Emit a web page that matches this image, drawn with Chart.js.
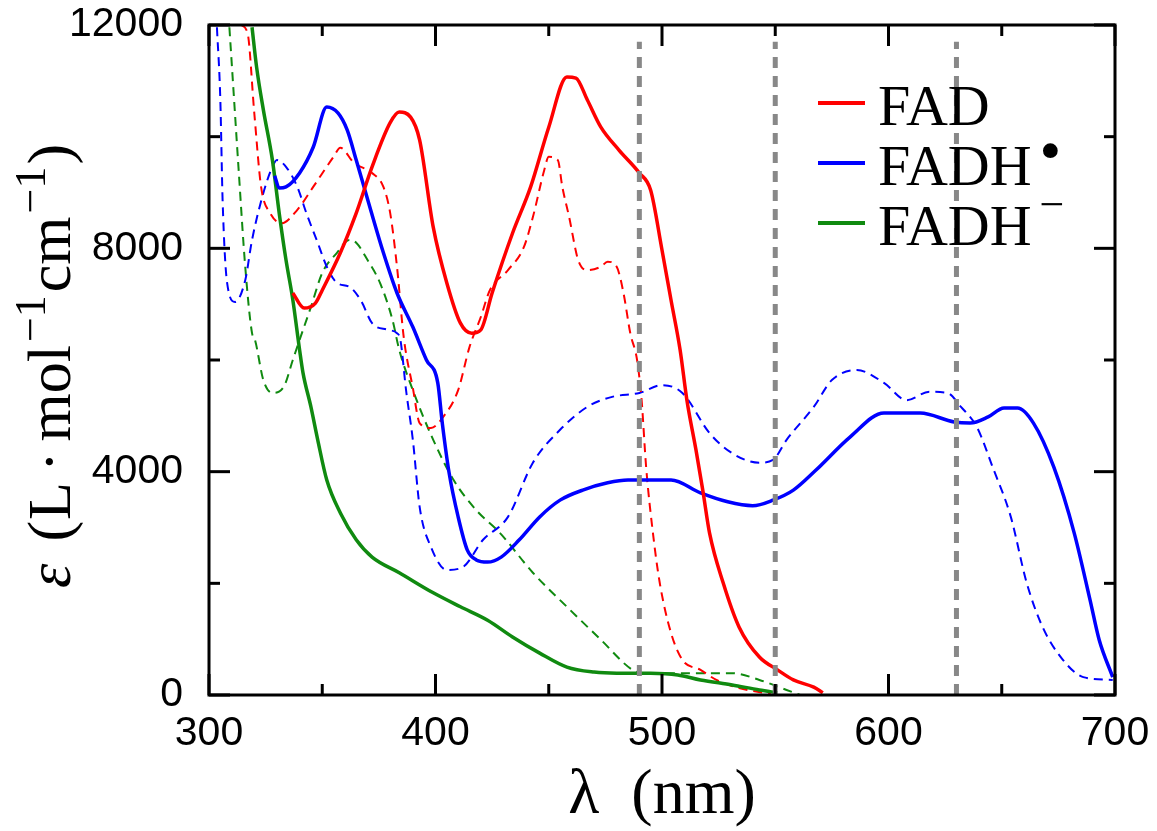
<!DOCTYPE html>
<html>
<head>
<meta charset="utf-8">
<script src="https://cdn.jsdelivr.net/npm/chart.js@4.4.1/dist/chart.umd.min.js"></script>
<style>
  html, body { margin: 0; padding: 0; background: #fff; }
  #wrap { position: relative; width: 1157px; height: 831px; }
</style>
</head>
<body>
<div id="wrap"><canvas id="spectra"></canvas></div>
<script>
const COLORS = {
    red: '#ff0000',
    blue: '#0000ff',
    green: '#108a10',
    gray: '#888888',
    black: '#000000'
};
const TICK_FONT = "'Liberation Sans Narrow', 'Liberation Sans', Arial, sans-serif";
const SERIF = "'Liberation Serif', 'DejaVu Serif', serif";

// FAD (oxidised) - solid = measured, dashed = second spectrum
const fadSolidNm = [337, 342, 347, 350, 358, 365, 372, 380, 384, 389, 393, 399, 405, 411, 416, 420, 425, 434, 442, 450, 458, 462, 467, 473, 481, 490, 495, 500, 504, 508, 511, 515, 518, 521, 527, 534, 543, 551, 558, 567, 571];
const fadSolidEps = [7200, 6930, 7020, 7250, 7920, 8630, 9460, 10250, 10440, 10350, 9940, 8380, 7380, 6660, 6480, 6540, 7200, 8270, 9100, 10170, 11070, 11050, 10660, 10170, 9760, 9350, 9040, 7970, 7070, 6180, 5280, 4390, 3670, 2900, 2010, 1220, 680, 450, 270, 140, 40];
const fadDashNm = [314, 317, 320, 323, 327, 332, 339, 346, 355, 358, 364, 372, 377, 380, 383, 386, 390, 393, 398, 403, 410, 415, 420, 424, 432, 439, 443, 448, 450, 454, 456, 459, 463, 467, 473, 476, 480, 483, 486, 489, 491, 493, 496, 499, 504, 509, 517, 524, 534, 548];
const fadDashEps = [12000, 11860, 10420, 9100, 8630, 8450, 8690, 9100, 9640, 9800, 9530, 9350, 9100, 8630, 7670, 6400, 5500, 4870, 4780, 4960, 5460, 6230, 6770, 7250, 7610, 8020, 8560, 9400, 9640, 9580, 9100, 8560, 7790, 7610, 7670, 7760, 7670, 7200, 6480, 6000, 5280, 4080, 2900, 2010, 1110, 630, 450, 270, 125, 20];

// FADH radical
const radSolidNm = [329, 331, 334, 340, 346, 352, 357, 361, 365, 371, 377, 383, 390, 396, 401, 403, 406, 410, 414, 418, 423, 429, 437, 446, 455, 465, 476, 485, 495, 504, 517, 529, 540, 549, 558, 568, 583, 598, 614, 629, 636, 644, 651, 657, 664, 673, 682, 689, 693, 699];
const radSolidEps = [9300, 9080, 9100, 9350, 9810, 10530, 10420, 10120, 9580, 8740, 7920, 7200, 6590, 6000, 5590, 4870, 3980, 3190, 2600, 2420, 2380, 2470, 2780, 3190, 3490, 3670, 3800, 3850, 3850, 3850, 3620, 3460, 3390, 3490, 3670, 4030, 4620, 5050, 5050, 4890, 4870, 4980, 5140, 5140, 4870, 4080, 2900, 1700, 990, 320];
const radDashNm = [303.5, 305, 306, 308, 311.5, 316, 319, 324, 328, 330, 334, 339, 343, 348, 352, 356.5, 362, 367, 372, 379, 383, 384.5, 387, 390, 393, 398, 405, 412, 421, 432, 443, 455, 467, 478, 490, 500, 509, 521, 531, 543, 549, 555, 567, 575, 586, 598, 608, 618, 626, 632, 639, 646, 654, 661, 668, 677, 686, 699];
const radDashEps = [11960, 10660, 8870, 7380, 7040, 7430, 8150, 8990, 9460, 9580, 9460, 9100, 8630, 8100, 7670, 7380, 7310, 7070, 6660, 6540, 6480, 6360, 5460, 4570, 3370, 2650, 2240, 2290, 2780, 3190, 4160, 4750, 5160, 5340, 5410, 5550, 5410, 4690, 4330, 4160, 4210, 4570, 5160, 5640, 5820, 5590, 5280, 5430, 5410, 5160, 4800, 4080, 3190, 2010, 1220, 630, 320, 270];

// FADH anion
const anSolidNm = [319, 321, 324, 328, 331, 334, 337, 340, 341.5, 345, 348, 352, 358, 365, 372, 384, 399, 411, 423, 434, 446, 458, 470, 480, 495, 507, 517, 531, 543, 551];
const anSolidEps = [11960, 11250, 10480, 9580, 8630, 7790, 7080, 6180, 5770, 5160, 4570, 3850, 3260, 2780, 2470, 2190, 1830, 1580, 1340, 1040, 750, 500, 410, 390, 390, 360, 270, 180, 90, 40];
const anDashNm = [309, 310.6, 313, 316, 319, 320.3, 324, 328, 333, 337, 340, 345, 350, 356.5, 362, 365, 370, 375.5, 381, 384, 390, 399, 408, 418, 428.5, 443, 458, 473, 487, 492, 517, 531, 543, 555, 561];
const anDashEps = [11960, 10960, 9460, 7670, 6480, 6360, 5640, 5410, 5520, 6000, 6360, 6950, 7560, 7920, 8150, 8100, 7790, 7380, 6720, 6180, 5460, 4570, 3850, 3310, 2900, 2190, 1580, 990, 450, 390, 390, 390, 270, 90, 0];

// excitation wavelengths (gray dashed markers)
const markerNm = [490, 550, 630];
const markerTop = 11700;

// axis ticks
const xLabelTicks = [300, 400, 500, 600, 700];
const xMinorTicks = [350, 450, 550, 650];
const yLabelTicks = [0, 4000, 8000, 12000];
const yMinorTicks = [2000, 6000, 10000];

const legendNames = ['FAD', 'FADH', 'FADH'];
const legendSups = ['', '\u2022', '\u2212'];
const legendColors = [COLORS.red, COLORS.blue, COLORS.green];

function series(nm, eps) {
    return nm.map((v, i) => ({ x: v, y: eps[i] }));
}

function curve(nm, eps, color, dashed) {
    return {
        data: series(nm, eps),
        borderColor: color,
        borderWidth: dashed ? 2 : 3.5,
        borderDash: dashed ? [9, 6] : [],
        pointRadius: 0,
        fill: false,
        cubicInterpolationMode: 'monotone',
        order: dashed ? 3 : 2
    };
}

const datasets = [
    curve(fadDashNm, fadDashEps, COLORS.red, true),
    curve(radDashNm, radDashEps, COLORS.blue, true),
    curve(anDashNm, anDashEps, COLORS.green, true),
    curve(fadSolidNm, fadSolidEps, COLORS.red, false),
    curve(radSolidNm, radSolidEps, COLORS.blue, false),
    curve(anSolidNm, anSolidEps, COLORS.green, false)
];
markerNm.forEach(v => {
    datasets.push({
        data: [{ x: v, y: 0 }, { x: v, y: markerTop }],
        borderColor: COLORS.gray,
        borderWidth: 5,
        borderDash: [11, 8],
        pointRadius: 0,
        order: 1
    });
});

// draws text pieces left to right, superscripts smaller and raised
function drawRich(ctx, parts, x, y) {
    let cx = x;
    parts.forEach(p => {
        ctx.font = p.font;
        ctx.fillText(p.text, cx, y - (p.raise || 0));
        cx += ctx.measureText(p.text).width + (p.gap || 0);
    });
    return cx;
}
function richWidth(ctx, parts) {
    let w = 0;
    parts.forEach(p => {
        ctx.font = p.font;
        w += ctx.measureText(p.text).width + (p.gap || 0);
    });
    return w;
}

const framePlugin = {
    id: 'frame',
    afterDraw(chart) {
        const { ctx, chartArea: a, scales: { x, y } } = chart;
        ctx.save();
        ctx.strokeStyle = COLORS.black;
        ctx.lineWidth = 3;
        ctx.strokeRect(a.left, a.top, a.right - a.left, a.bottom - a.top);

        const seg = (x1, y1, x2, y2) => {
            ctx.beginPath();
            ctx.moveTo(x1, y1);
            ctx.lineTo(x2, y2);
            ctx.stroke();
        };
        const xt = (v, len) => {
            const px = x.getPixelForValue(v);
            seg(px, a.bottom, px, a.bottom - len);
            seg(px, a.top, px, a.top + len);
        };
        const yt = (v, len) => {
            const py = y.getPixelForValue(v);
            seg(a.left, py, a.left + len, py);
            seg(a.right, py, a.right - len, py);
        };
        xLabelTicks.forEach(v => xt(v, 21));
        xMinorTicks.forEach(v => xt(v, 11));
        yLabelTicks.forEach(v => yt(v, 21));
        yMinorTicks.forEach(v => yt(v, 11));

        // legend
        ctx.fillStyle = COLORS.black;
        ctx.textBaseline = 'alphabetic';
        ctx.textAlign = 'left';
        const rowBase = [125, 185, 245];
        legendNames.forEach((name, i) => {
            ctx.strokeStyle = legendColors[i];
            ctx.lineWidth = 4;
            seg(818, rowBase[i] - 22, 865, rowBase[i] - 22);
            const parts = [{ text: name, font: '58px ' + SERIF, gap: 8 }];
            if (legendSups[i] === '\u2022') {
                parts.push({ text: legendSups[i], font: '62px ' + SERIF, raise: 14 });
            } else if (legendSups[i]) {
                parts.push({ text: legendSups[i], font: '44px ' + SERIF, raise: 26 });
            }
            drawRich(ctx, parts, 878, rowBase[i]);
        });

        // y axis title
        const title = [
            { text: '\u025B', font: 'italic 62px ' + SERIF, gap: 22 },
            { text: '(', font: '62px ' + SERIF, gap: 1 },
            { text: 'L', font: '62px ' + SERIF, gap: 10 },
            { text: '\u00B7', font: '62px ' + SERIF, gap: 10 },
            { text: 'mol', font: '62px ' + SERIF, gap: 3 },
            { text: '\u22121', font: '44px ' + SERIF, raise: 25, gap: 3 },
            { text: 'cm', font: '62px ' + SERIF, gap: 3 },
            { text: '\u22121', font: '44px ' + SERIF, raise: 25, gap: 2 },
            { text: ')', font: '62px ' + SERIF }
        ];
        ctx.save();
        ctx.translate(70, (a.top + a.bottom) / 2 + 6);
        ctx.rotate(-Math.PI / 2);
        const w = richWidth(ctx, title);
        drawRich(ctx, title, -w / 2, 0);
        ctx.restore();

        ctx.restore();
    }
};

new Chart(document.getElementById('spectra'), {
    type: 'line',
    data: { datasets },
    options: {
        responsive: true,
        maintainAspectRatio: false,
        animation: false,
        layout: { padding: { top: 25, right: 42, left: 0, bottom: 0 } },
        plugins: {
            legend: { display: false },
            tooltip: { enabled: false }
        },
        scales: {
            x: {
                type: 'linear',
                min: 300,
                max: 700,
                afterFit: (scale) => {
                    scale.height = 136;
                    scale.paddingLeft = 0;
                    scale.paddingRight = 0;
                },
                afterBuildTicks: (scale) => { scale.ticks = xLabelTicks.map(v => ({ value: v })); },
                grid: { display: false, drawTicks: false },
                border: { display: false },
                ticks: {
                    color: COLORS.black,
                    padding: 14,
                    maxRotation: 0,
                    font: { family: TICK_FONT, size: 41 },
                    callback: (v) => String(v)
                },
                title: {
                    display: true,
                    text: '\u03BB  (nm)',
                    color: COLORS.black,
                    font: { family: SERIF, size: 64, lineHeight: 1.1 },
                    padding: { top: 0, bottom: 0 }
                }
            },
            y: {
                type: 'linear',
                min: 0,
                max: 12000,
                afterFit: (scale) => {
                    scale.width = 209;
                    scale.paddingTop = 0;
                    scale.paddingBottom = 0;
                },
                afterBuildTicks: (scale) => { scale.ticks = yLabelTicks.map(v => ({ value: v })); },
                grid: { display: false, drawTicks: false },
                border: { display: false },
                ticks: {
                    color: COLORS.black,
                    padding: 26,
                    font: { family: TICK_FONT, size: 41 },
                    callback: (v) => String(v)
                }
            }
        }
    },
    plugins: [framePlugin]
});
</script>
</body>
</html>
